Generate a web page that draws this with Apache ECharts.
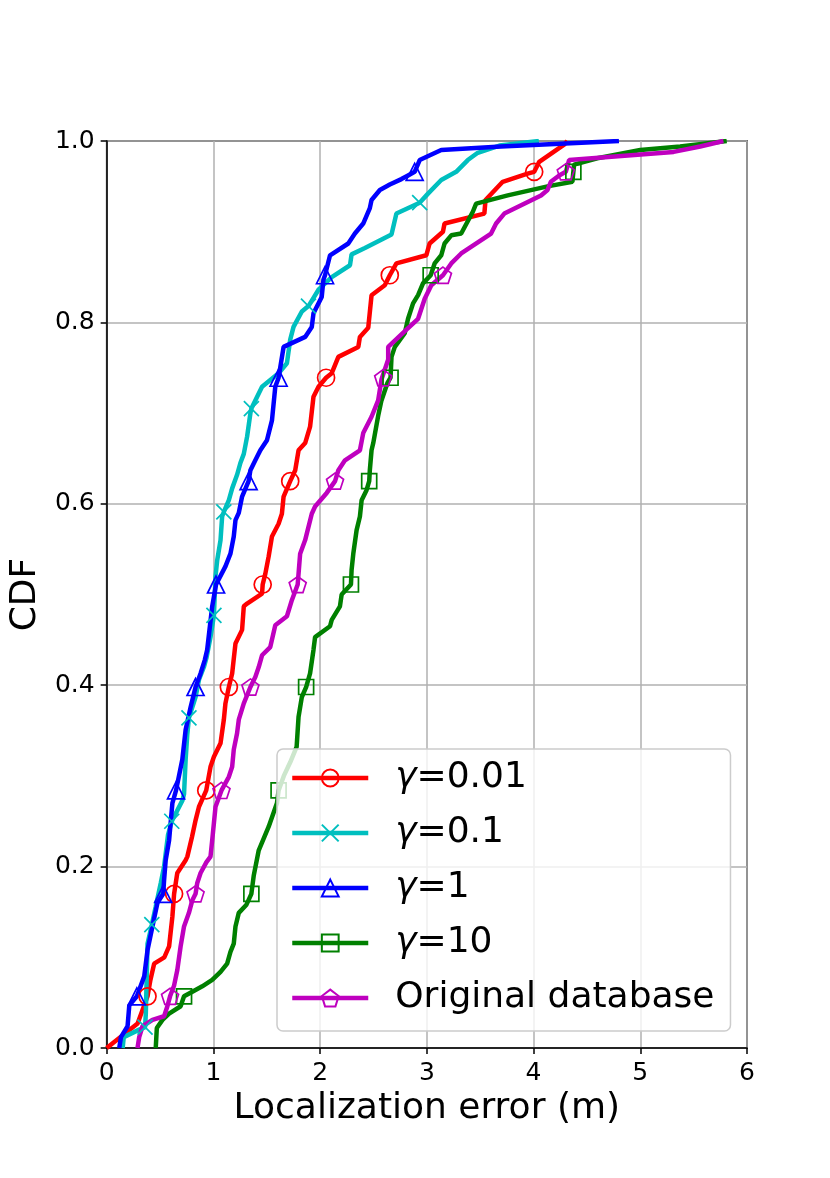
<!DOCTYPE html>
<html>
<head>
<meta charset="utf-8">
<script src="https://cdn.jsdelivr.net/npm/echarts@6/dist/echarts.min.js"></script>
<style>
  html, body { margin: 0; padding: 0; background: #fff; }
  #chart { width: 830px; height: 1178px; }
</style>
</head>
<body>
<div id="chart"></div>
<script>
// CDF levels where the markers sit (every 10th sample)
var levelsMain = [0.057, 0.170, 0.284, 0.398, 0.511, 0.625, 0.739, 0.852, 0.966];
var levelsCyan = [0.023, 0.136, 0.250, 0.364, 0.477, 0.591, 0.705, 0.818, 0.932];

// gamma = 0.01
var g001Line = [[0,0],[0.29,0.027],[0.41,0.075],[0.445,0.093],[0.54,0.10],[0.585,0.112],[0.616,0.145],
  [0.662,0.193],[0.74,0.207],[0.756,0.211],[0.80,0.233],[0.833,0.251],[0.865,0.266],[0.973,0.31],
  [1.005,0.321],[1.067,0.336],[1.098,0.362],[1.113,0.38],[1.176,0.413],[1.19,0.428],[1.207,0.446],
  [1.269,0.461],[1.285,0.487],[1.316,0.49],[1.456,0.501],[1.487,0.523],[1.518,0.542],[1.549,0.564],
  [1.611,0.578],[1.642,0.589],[1.658,0.608],[1.767,0.637],[1.798,0.659],[1.86,0.667],[1.906,0.685],
  [1.938,0.718],[1.985,0.729],[2.109,0.744],[2.171,0.762],[2.358,0.773],[2.373,0.784],[2.451,0.794],
  [2.482,0.83],[2.606,0.841],[2.715,0.865],[2.995,0.874],[3.026,0.887],[3.151,0.90],[3.166,0.909],
  [3.539,0.920],[3.55,0.935],[3.711,0.955],[3.944,0.964],[4.053,0.977],[4.286,0.996],[4.317,1.0]];
var g001Marks = [0.383, 0.632, 0.933, 1.145, 1.462, 1.72, 2.056, 2.653, 4.006];

// gamma = 0.1
var g01Line = [[0.15,0],[0.16,0.012],[0.30,0.02],[0.367,0.038],[0.383,0.115],[0.46,0.156],[0.507,0.182],
  [0.538,0.20],[0.575,0.235],[0.71,0.273],[0.725,0.28],[0.74,0.318],[0.755,0.345],[0.833,0.387],
  [0.865,0.406],[0.911,0.42],[0.935,0.43],[0.973,0.453],[1.02,0.52],[1.036,0.538],[1.067,0.56],
  [1.082,0.586],[1.145,0.604],[1.176,0.617],[1.222,0.632],[1.253,0.645],[1.285,0.655],[1.316,0.674],
  [1.347,0.70],[1.456,0.729],[1.611,0.744],[1.689,0.755],[1.72,0.781],[1.751,0.795],[1.829,0.812],
  [1.985,0.836],[2.109,0.85],[2.28,0.863],[2.295,0.875],[2.42,0.882],[2.669,0.897],[2.715,0.92],
  [3.011,0.942],[3.135,0.957],[3.275,0.966],[3.384,0.979],[3.477,0.987],[3.68,0.995],[4.05,1.0]];
var g01Marks = [0.36, 0.423, 0.61, 0.771, 1.005, 1.098, 1.356, 1.891, 2.933];

// gamma = 1
var g1Line = [[0.118,0],[0.134,0.012],[0.196,0.024],[0.212,0.047],[0.352,0.079],[0.383,0.108],
  [0.429,0.134],[0.476,0.16],[0.538,0.185],[0.553,0.207],[0.585,0.229],[0.616,0.27],[0.709,0.318],
  [0.74,0.351],[0.787,0.376],[0.88,0.413],[0.92,0.428],[0.942,0.439],[0.989,0.487],[1.113,0.531],
  [1.16,0.545],[1.191,0.564],[1.207,0.582],[1.238,0.59],[1.269,0.608],[1.347,0.637],[1.393,0.648],
  [1.44,0.659],[1.502,0.67],[1.549,0.692],[1.58,0.729],[1.658,0.773],[1.86,0.784],[1.922,0.795],
  [1.938,0.81],[2.015,0.828],[2.031,0.847],[2.093,0.874],[2.264,0.887],[2.326,0.898],[2.404,0.909],
  [2.466,0.926],[2.482,0.935],[2.56,0.946],[2.653,0.952],[2.762,0.958],[2.824,0.962],[2.933,0.979],
  [3.135,0.99],[3.695,0.994],[4.8,1.0]];
var g1Marks = [0.283, 0.53, 0.65, 0.833, 1.025, 1.33, 1.611, 2.046, 2.886];

// gamma = 10
var g10Line = [[0.46,0],[0.47,0.022],[0.523,0.031],[0.585,0.038],[0.693,0.046],[0.803,0.062],
  [0.896,0.068],[0.989,0.075],[1.067,0.084],[1.129,0.093],[1.16,0.106],[1.191,0.115],[1.207,0.134],
  [1.238,0.149],[1.31,0.158],[1.378,0.19],[1.425,0.218],[1.518,0.244],[1.596,0.27],[1.66,0.30],
  [1.72,0.315],[1.78,0.332],[1.798,0.365],[1.829,0.387],[1.906,0.413],[1.938,0.439],[1.953,0.453],
  [2.093,0.465],[2.109,0.472],[2.186,0.487],[2.202,0.50],[2.295,0.527],[2.311,0.545],[2.342,0.571],
  [2.373,0.586],[2.389,0.604],[2.435,0.615],[2.466,0.637],[2.482,0.659],[2.498,0.667],[2.544,0.697],
  [2.575,0.714],[2.63,0.733],[2.669,0.762],[2.70,0.773],[2.793,0.788],[2.824,0.804],[2.871,0.821],
  [2.918,0.83],[2.964,0.843],[3.073,0.865],[3.135,0.874],[3.166,0.887],[3.229,0.896],[3.322,0.898],
  [3.431,0.922],[3.462,0.931],[3.758,0.94],[4.131,0.95],[4.364,0.955],[4.38,0.974],[4.597,0.981],
  [5.0,0.99],[5.374,0.994],[5.81,1.0]];
var g10Marks = [0.725, 1.356, 1.611, 1.869, 2.289, 2.46, 2.66, 3.036, 4.373];

// original database
var origLine = [[0.289,0],[0.305,0.012],[0.336,0.024],[0.429,0.031],[0.538,0.035],[0.569,0.046],
  [0.632,0.069],[0.662,0.086],[0.693,0.112],[0.725,0.134],[0.771,0.149],[0.803,0.163],[0.849,0.182],
  [0.88,0.193],[0.935,0.205],[0.973,0.211],[0.989,0.229],[1.005,0.248],[1.02,0.266],[1.145,0.299],
  [1.176,0.31],[1.191,0.329],[1.222,0.347],[1.238,0.362],[1.285,0.38],[1.393,0.409],[1.425,0.42],
  [1.456,0.433],[1.533,0.442],[1.58,0.466],[1.689,0.476],[1.736,0.494],[1.813,0.545],[1.86,0.56],
  [1.922,0.589],[1.953,0.597],[2.062,0.612],[2.171,0.637],[2.233,0.648],[2.373,0.659],[2.404,0.678],
  [2.482,0.696],[2.544,0.714],[2.575,0.737],[2.638,0.759],[2.638,0.773],[2.809,0.792],[2.918,0.804],
  [2.98,0.826],[3.042,0.841],[3.229,0.865],[3.322,0.876],[3.602,0.898],[3.649,0.909],[3.726,0.92],
  [4.07,0.94],[4.131,0.946],[4.162,0.955],[4.24,0.962],[4.333,0.979],[5.312,0.988],[5.561,0.994],
  [5.779,1.0]];
var origMarks = [0.594, 0.833, 1.076, 1.347, 1.79, 2.14, 2.591, 3.151, 4.302];

var xTicks = [0, 1, 2, 3, 4, 5, 6];
var yTicks = [0, 0.2, 0.4, 0.6, 0.8, 1.0];

var FONT = 'DejaVu Sans';
var PENTAGON = 'path://M50,0L97.55,34.55L79.39,90.45L20.61,90.45L2.45,34.55Z';
var XMARK = 'path://M0,0L100,100M100,0L0,100';

// merge line samples with marker samples, show a symbol only on the markers
function buildData(line, marks, levels) {
    var pts = line.map(function (p) { return { value: p }; });
    marks.forEach(function (x, i) {
        pts.push({ value: [x, levels[i]], mark: true });
    });
    pts.sort(function (a, b) { return a.value[1] - b.value[1] || a.value[0] - b.value[0]; });
    return pts.map(function (p) {
        return p.mark ? { value: p.value } : { value: p.value, symbol: 'none' };
    });
}

function mkSeries(name, color, symbol, size, line, marks, levels) {
    return {
        name: name,
        type: 'line',
        data: buildData(line, marks, levels),
        symbol: symbol,
        symbolSize: size,
        symbolKeepAspect: true,
        showSymbol: true,
        showAllSymbol: true,
        lineStyle: { color: color, width: 4.5 },
        itemStyle: { color: 'rgba(255,255,255,0)', borderColor: color, borderWidth: 1.7 },
        emphasis: { disabled: true },
        z: 3
    };
}

var chart = echarts.init(document.getElementById('chart'));
chart.setOption({
    animation: false,
    backgroundColor: '#fff',
    grid: { left: 104, right: 83, top: 141, bottom: 130, show: true,
        borderColor: '#000', borderWidth: 1.5, backgroundColor: 'transparent' },
    xAxis: {
        type: 'value', min: xTicks[0], max: xTicks[xTicks.length - 1], interval: 1,
        name: 'Localization error (m)', nameLocation: 'middle', nameGap: 41,
        nameTextStyle: { fontFamily: FONT, fontSize: 36, color: '#000' },
        axisLine: { show: true, lineStyle: { color: '#000', width: 1.5 } },
        axisTick: { show: true, length: 6, lineStyle: { color: '#000', width: 1.5 } },
        axisLabel: { fontFamily: FONT, fontSize: 25, color: '#000', margin: 13 },
        splitLine: { show: true, lineStyle: { color: '#b0b0b0', width: 1.5 } }
    },
    yAxis: {
        type: 'value', min: yTicks[0], max: yTicks[yTicks.length - 1], interval: 0.2,
        name: 'CDF', nameLocation: 'middle', nameGap: 60,
        nameTextStyle: { fontFamily: FONT, fontSize: 36, color: '#000' },
        axisLine: { show: true, lineStyle: { color: '#000', width: 1.5 } },
        axisTick: { show: true, length: 6, lineStyle: { color: '#000', width: 1.5 } },
        axisLabel: { fontFamily: FONT, fontSize: 25, color: '#000', margin: 12,
            formatter: function (v) { return v.toFixed(1); } },
        splitLine: { show: true, lineStyle: { color: '#b0b0b0', width: 1.5 } }
    },
    legend: {
        left: 277, top: 749, orient: 'vertical',
        itemWidth: 76, itemHeight: 21, itemGap: 19,
        padding: [11, 16, 15, 13],
        backgroundColor: 'rgba(255,255,255,0.8)',
        borderColor: '#cccccc', borderWidth: 1.5, borderRadius: 6,
        selectedMode: false,
        lineStyle: { width: 4.5 },
        formatter: function (name) { return name.replace('γ', '{g|γ}'); },
        textStyle: {
            fontFamily: FONT, fontSize: 36, color: '#000', lineHeight: 36,
            padding: [0, 0, 0, 22],
            rich: { g: { fontFamily: FONT, fontSize: 36, fontStyle: 'italic', color: '#000' } }
        },
        z: 10
    },
    series: [
        mkSeries('γ=0.01', '#ff0000', 'circle', 17, g001Line, g001Marks, levelsMain),
        mkSeries('γ=0.1', '#00bfbf', XMARK, 15, g01Line, g01Marks, levelsCyan),
        mkSeries('γ=1', '#0000ff', 'triangle', 17, g1Line, g1Marks, levelsMain),
        mkSeries('γ=10', '#008000', 'rect', 15, g10Line, g10Marks, levelsMain),
        mkSeries('Original database', '#bf00bf', PENTAGON, 17, origLine, origMarks, levelsMain)
    ]
});
</script>
</body>
</html>
